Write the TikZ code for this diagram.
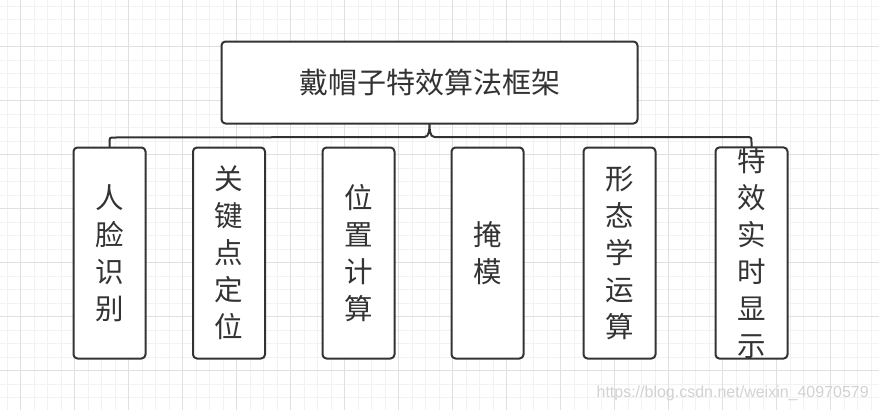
\documentclass[tikz,border=0pt]{standalone}
\usepackage{fontspec}
\newfontfamily\cjk{Noto Sans CJK SC}
\newfontfamily\wmfont{Liberation Sans}
\usetikzlibrary{calc}
\definecolor{ink}{HTML}{333333}
\definecolor{gridminor}{HTML}{F2F2F2}
\definecolor{gridmajor}{HTML}{E0E0E0}
\tikzset{
  box/.style={draw=ink, line width=2pt, rounded corners=4pt, fill=white,
    inner sep=0pt, outer sep=0pt, text=ink, align=center},
  titlebox/.style={box, minimum width=416pt, minimum height=82pt,
    font=\cjk\fontsize{29}{34}\selectfont},
  colbox/.style={box, minimum width=72pt, minimum height=211pt,
    font=\cjk\fontsize{28.5}{37}\selectfont},
  conn/.style={draw=ink, line width=2pt},
}
\begin{document}
\begin{tikzpicture}[x=1pt,y=-1pt]
\useasboundingbox (0,0) rectangle (879,410);
\fill[white] (0,0) rectangle (879,410);
% grid
\foreach \i in {0,...,65} {
  \pgfmathsetmacro{\xx}{7.2+13.5*\i}
  \draw[gridminor, line width=1pt] (\xx,0) -- (\xx,410);
}
\foreach \i in {0,...,31} {
  \pgfmathsetmacro{\yy}{6.2+13.5*\i}
  \draw[gridminor, line width=1pt] (0,\yy) -- (879,\yy);
}
\foreach \i in {0,...,16} {
  \pgfmathsetmacro{\xx}{20.7+54*\i}
  \draw[gridmajor, line width=1pt] (\xx,0) -- (\xx,410);
}
\foreach \i in {-1,...,7} {
  \pgfmathsetmacro{\yy}{46.7+54*\i}
  \draw[gridmajor, line width=1pt] (0,\yy) -- (879,\yy);
}
% nodes
\node[titlebox] (top) at (429.5,82.5) {戴帽子特效算法框架};
\node[colbox] (b1) at (109.5,253) {人\\脸\\识\\别};
\node[colbox] (b2) at (229,253) {关\\键\\点\\定\\位};
\node[colbox] (b3) at (358.5,253) {位\\置\\计\\算};
\node[colbox] (b4) at (487.5,253) {掩\\模};
\node[colbox] (b5) at (619.5,253) {形\\态\\学\\运\\算};
\node[colbox] (b6) at (751.5,253) {特\\效\\实\\时\\显\\示};
% curly bracket connector
\coordinate (bar) at (0,137);
\draw[conn] (b1.north) -- ++(0,-5) .. controls +(0,-5) and +(-5,0) .. ++(5,-5)
  -- ($(top.south |- bar)+(-5,0)$) .. controls +(5,0) and +(0,5) .. (top.south)
  .. controls +(0,5) and +(-5,0) .. ($(top.south |- bar)+(5,0)$)
  -- ($(b6.north |- bar)+(-5,0)$) .. controls +(5,0) and +(0,-5) .. ($(b6.north)+(0,-5)$)
  -- (b6.north);
% watermark
\node[anchor=base east, text=gray!35, font=\wmfont\fontsize{16}{16}\selectfont, inner sep=0pt] (wm) at (869,397) {https://blog.csdn.net/weixin\_40970579};
\end{tikzpicture}
\end{document}
